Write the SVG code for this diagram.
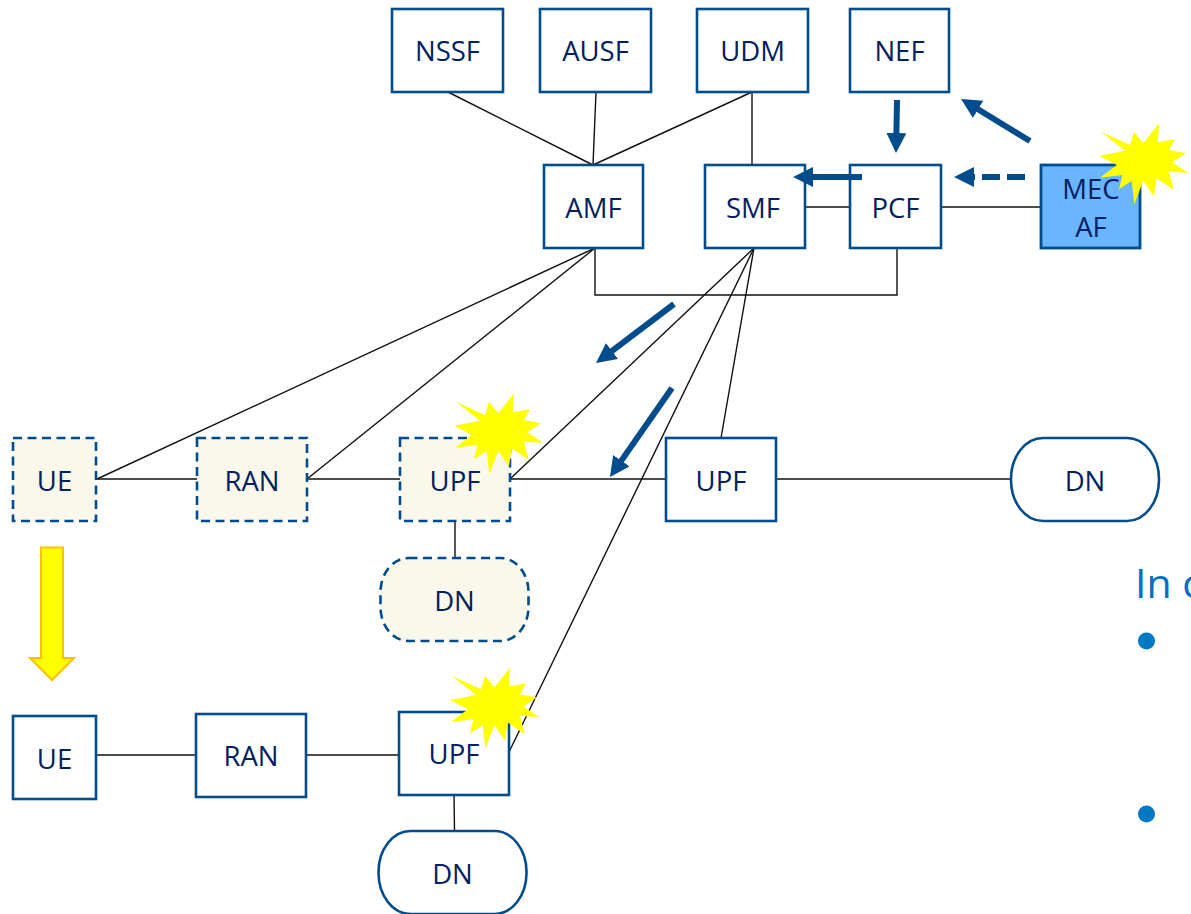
<svg xmlns="http://www.w3.org/2000/svg" width="1191" height="914" viewBox="0 0 1191 914">
<style>
.n{fill:#fff;stroke:#004c8c;stroke-width:2.6}
.d{fill:#faf8eb;stroke:#004c8c;stroke-width:2.6;stroke-dasharray:9 5.500}
.m{fill:#69b5ff;stroke:#004c8c;stroke-width:2.8}
text{font-family:"Open Sans","Noto Sans","Liberation Sans",sans-serif;font-size:27.500px;fill:#002060;text-anchor:middle}
.c line,.c path{stroke:#111;stroke-width:1.4;fill:none}
.a{stroke:#004c8c;stroke-width:6;fill:none}
.s{fill:#ff0;stroke:none}
</style>
<defs>
<marker id="ah" markerUnits="userSpaceOnUse" markerWidth="22" markerHeight="22" refX="4" refY="10" orient="auto"><path d="M0 0L20 10L0 20z" fill="#004c8c"/></marker>
<polygon id="star" points="456,401.7 485,415 489,401.7 498.3,413.3 514,393.3 512.7,412.3 530,409.3 524,420 541,423.3 527.3,432.3 543.3,442.7 524,441.7 528.7,460 511.7,448.3 509,466.7 498.3,450.7 489.3,474.3 486.7,451 474,459.3 477.3,445 455,447.7 471.7,435 454.3,425.7 480,420.7"/>
</defs>
<g id="connectors" class="c">
<line x1="448" y1="92" x2="593" y2="165"/>
<line x1="596" y1="92" x2="593" y2="165"/>
<line x1="752" y1="92" x2="593" y2="165"/>
<line x1="752" y1="92" x2="752" y2="165"/>
<line x1="805" y1="207" x2="850" y2="207"/>
<line x1="941" y1="207" x2="1041" y2="207"/>
<path d="M595 248V295H897V248"/>
<line x1="595" y1="248" x2="97" y2="479"/>
<line x1="595" y1="248" x2="307" y2="479"/>
<line x1="754" y1="248" x2="510" y2="479"/>
<line x1="754" y1="248" x2="721" y2="438"/>
<line x1="754" y1="248" x2="509" y2="752"/>
<line x1="97" y1="479" x2="197" y2="479"/>
<line x1="307" y1="479" x2="400" y2="479"/>
<line x1="510" y1="479" x2="666" y2="479"/>
<line x1="776" y1="479" x2="1011" y2="479"/>
<line x1="455" y1="521" x2="455" y2="558"/>
<line x1="96" y1="755" x2="196" y2="755"/>
<line x1="306" y1="755" x2="399" y2="755"/>
<line x1="454" y1="795" x2="454.500" y2="831"/>
</g>
<g id="NSSF"><rect class="n" x="392" y="9" width="111" height="83"/><text x="447.500" y="61">NSSF</text></g>
<g id="AUSF"><rect class="n" x="540" y="9" width="111" height="83"/><text x="595.500" y="61">AUSF</text></g>
<g id="UDM"><rect class="n" x="697" y="9" width="111" height="83"/><text x="752.500" y="61">UDM</text></g>
<g id="NEF"><rect class="n" x="850" y="9" width="99" height="83"/><text x="899.500" y="61">NEF</text></g>
<g id="AMF"><rect class="n" x="544" y="165" width="99" height="83"/><text x="593.500" y="218">AMF</text></g>
<g id="SMF"><rect class="n" x="705" y="165" width="100" height="83"/><text x="753" y="218">SMF</text></g>
<g id="PCF"><rect class="n" x="850" y="165" width="91" height="83"/><text x="895.500" y="218">PCF</text></g>
<g id="MEC-AF"><rect class="m" x="1041" y="165" width="99" height="83"/><text x="1091" y="199">MEC</text><text x="1091" y="237">AF</text></g>
<g id="UE-dashed"><rect class="d" x="13" y="438" width="83" height="83"/><text x="54.500" y="491">UE</text></g>
<g id="RAN-dashed"><rect class="d" x="197" y="438" width="110" height="83"/><text x="252" y="491">RAN</text></g>
<g id="UPF-dashed"><rect class="d" x="400" y="438" width="110" height="83"/><text x="455" y="491">UPF</text></g>
<g id="DN-dashed"><rect class="d" x="380.500" y="558" width="148" height="83" rx="28" ry="34"/><text x="454.500" y="611">DN</text></g>
<g id="UPF-main"><rect class="n" x="666" y="438" width="110" height="83"/><text x="721" y="491">UPF</text></g>
<g id="DN-main"><rect class="n" x="1011" y="438" width="148" height="83" rx="32" ry="41"/><text x="1085" y="491">DN</text></g>
<g id="UE"><rect class="n" x="13" y="716" width="83" height="83"/><text x="54.500" y="769">UE</text></g>
<g id="RAN"><rect class="n" x="196" y="714" width="110" height="83"/><text x="251" y="766">RAN</text></g>
<g id="UPF"><rect class="n" x="399" y="712" width="110" height="83"/><text x="454" y="764">UPF</text></g>
<g id="DN"><rect class="n" x="378.500" y="831" width="148" height="83" rx="32" ry="41"/><text x="452.500" y="884">DN</text></g>
<g id="arrows">
<line class="a" x1="1030" y1="141" x2="974.700" y2="107.300" marker-end="url(#ah)"/>
<line class="a" x1="897" y1="100" x2="896.300" y2="137" marker-end="url(#ah)"/>
<line class="a" x1="862" y1="177" x2="809" y2="177" marker-end="url(#ah)"/>
<line class="a" x1="1025" y1="177" x2="970" y2="177" stroke-dasharray="18 7" marker-end="url(#ah)"/>
<line class="a" x1="674" y1="304" x2="608.800" y2="353.400" marker-end="url(#ah)"/>
<line class="a" x1="672" y1="388" x2="619.100" y2="463.900" marker-end="url(#ah)"/>
<path d="M41 547.500H63V658H74L52 680L30 658H41z" fill="#ff0" stroke="#ffc000" stroke-width="2"/>
</g>
<g id="stars" class="s">
<use href="#star"/>
<use href="#star" x="-4" y="274.300"/>
<use href="#star" x="645" y="-270"/>
</g>
<g id="fragment">
<text x="1135" y="598" style="font-size:41px;fill:#0070c0;text-anchor:start">In c</text>
<circle cx="1146.500" cy="641" r="8.500" fill="#0078c4"/>
<circle cx="1146.500" cy="814" r="8.500" fill="#0078c4"/>
</g>
</svg>
